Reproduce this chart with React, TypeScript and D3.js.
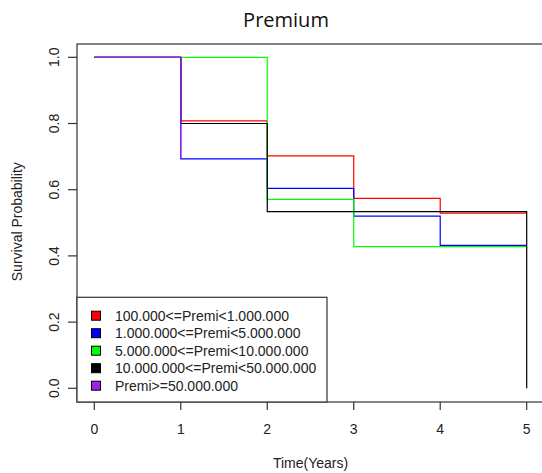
import React from "react";
import * as d3 from "d3";

const seriesNames = [
  "100.000<=Premi<1.000.000",
  "1.000.000<=Premi<5.000.000",
  "5.000.000<=Premi<10.000.000",
  "10.000.000<=Premi<50.000.000",
  "Premi>=50.000.000",
];
const seriesColors = ["#FF0000", "#0000FF", "#00FF00", "#000000", "#A020F0"];

// step times and survival values (value holds from time[i] to time[i+1])
const redTimes = [0, 1, 2, 3, 4, 5];
const redSurv = [1.0, 0.808, 0.702, 0.574, 0.529, 0.529];
const blueTimes = [0, 1, 2, 3, 4, 5];
const blueSurv = [1.0, 0.693, 0.604, 0.52, 0.432, 0.432];
const greenTimes = [0, 2, 3, 5];
const greenSurv = [1.0, 0.571, 0.428, 0.428];
const blackTimes = [0, 1, 2, 5];
const blackSurv = [1.0, 0.8, 0.534, 0.0];
const purpleTimes = [0, 1];
const purpleSurv = [1.0, 0.693];

const xTicks = [0, 1, 2, 3, 4, 5];
const yTicks = [0, 0.2, 0.4, 0.6, 0.8, 1.0];

const W = 542;
const H = 473;

export default function App() {
  const x = d3.scaleLinear().domain([0, 5]).range([94.3, 526.7]);
  const y = d3.scaleLinear().domain([0, 1]).range([388.3, 57.3]);
  const line = d3
    .line<[number, number]>()
    .x((d) => x(d[0]))
    .y((d) => y(d[1]))
    .curve(d3.curveStepAfter);

  const series = [
    [redTimes, redSurv],
    [blueTimes, blueSurv],
    [greenTimes, greenSurv],
    [blackTimes, blackSurv],
    [purpleTimes, purpleSurv],
  ];

  const left = 77;
  const top = 44;
  const bottom = 402;
  const font = "'Liberation Sans', Arial, sans-serif";

  return (
    <svg
      width={W}
      height={H}
      style={{ position: "absolute", left: 0, top: 0, background: "#fff" }}
      fontFamily={font}
    >
      <rect x={0} y={0} width={W} height={H} fill="#fff" />
      {series.map(([t, s], i) => (
        <path
          key={i}
          d={line(t.map((tt, j) => [tt, s[j]] as [number, number])) || ""}
          fill="none"
          stroke={seriesColors[i]}
          strokeWidth={1.2}
        />
      ))}
      {/* plot box */}
      <rect
        x={left}
        y={top}
        width={W + 10 - left}
        height={bottom - top}
        fill="none"
        stroke="#333"
        strokeWidth={1.2}
      />
      {/* x axis */}
      {xTicks.map((t) => (
        <g key={"x" + t}>
          <line x1={x(t)} x2={x(t)} y1={bottom} y2={bottom + 8} stroke="#333" strokeWidth={1.2} />
          <text x={x(t)} y={433.5} fontSize={14} textAnchor="middle" fill="#222">
            {String(t)}
          </text>
        </g>
      ))}
      {/* y axis */}
      {yTicks.map((t) => (
        <g key={"y" + t}>
          <line x1={left - 9} x2={left} y1={y(t)} y2={y(t)} stroke="#333" strokeWidth={1.2} />
          <text
            transform={`translate(58.5,${y(t)}) rotate(-90)`}
            fontSize={14}
            textAnchor="middle"
            fill="#222"
          >
            {t.toFixed(1)}
          </text>
        </g>
      ))}
      <text x={310.5} y={468} fontSize={14} textAnchor="middle" fill="#222">
        Time(Years)
      </text>
      <text
        transform={`translate(22,221.7) rotate(-90)`}
        fontSize={14}
        textAnchor="middle"
        fill="#222"
      >
        Survival Probability
      </text>
      <text
        x={286}
        y={27}
        fontSize={20}
        textAnchor="middle"
        fontFamily="'Open Sans', sans-serif"
        fill="#111"
      >
        Premium
      </text>
      {/* legend */}
      <rect x={left} y={297.3} width={250} height={bottom - 297.3} fill="#fff" stroke="#333" strokeWidth={1.2} />
      {seriesNames.map((n, i) => {
        const cy = 315.7 + i * 17.5;
        return (
          <g key={n}>
            <rect x={91.5} y={cy - 4.5} width={9} height={9} fill={seriesColors[i]} stroke="#000" strokeWidth={1} />
            <text x={115} y={cy + 5} fontSize={14} fill="#222">
              {n}
            </text>
          </g>
        );
      })}
    </svg>
  );
}
